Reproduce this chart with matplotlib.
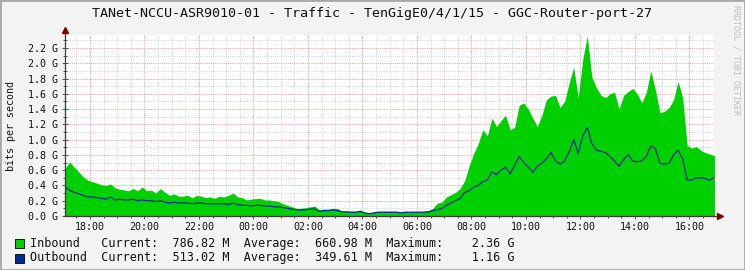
import matplotlib.pyplot as plt
from matplotlib.ticker import FixedLocator, MultipleLocator, FuncFormatter
from matplotlib.patches import Rectangle
import numpy as np

title = "TANet-NCCU-ASR9010-01 - Traffic - TenGigE0/4/1/15 - GGC-Router-port-27"

# one sample every 10 min, first one at 17:05 (hours counted from midnight of day 1)
start_hour = 17 + 5 / 60
step_hours = 10 / 60

# Gbit/s
inbound = [
    0.62, 0.71, 0.64, 0.58, 0.51, 0.47,  # 17
    0.45, 0.43, 0.41, 0.40, 0.42, 0.37,  # 18
    0.35, 0.34, 0.33, 0.36, 0.33, 0.38,  # 19
    0.33, 0.34, 0.30, 0.36, 0.31, 0.27,  # 20
    0.29, 0.26, 0.26, 0.27, 0.24, 0.27,  # 21
    0.26, 0.24, 0.25, 0.23, 0.26, 0.25,  # 22
    0.27, 0.30, 0.25, 0.24, 0.21, 0.22,  # 23
    0.23, 0.23, 0.21, 0.21, 0.20, 0.19,  # 00
    0.16, 0.14, 0.12, 0.10, 0.10, 0.11,  # 01
    0.12, 0.13, 0.08, 0.09, 0.09, 0.10,  # 02
    0.10, 0.06, 0.06, 0.06, 0.06, 0.08,  # 03
    0.05, 0.04, 0.05, 0.06, 0.06, 0.06,  # 04
    0.06, 0.06, 0.05, 0.06, 0.05, 0.06,  # 05
    0.06, 0.06, 0.07, 0.10, 0.17, 0.18,  # 06
    0.25, 0.28, 0.31, 0.36, 0.46, 0.66,  # 07
    0.82, 0.95, 1.13, 1.05, 1.28, 1.17,  # 08
    1.25, 1.32, 1.13, 1.16, 1.45, 1.48,  # 09
    1.40, 1.28, 1.17, 1.32, 1.52, 1.57,  # 10
    1.58, 1.42, 1.50, 1.74, 1.95, 1.55,  # 11
    2.05, 2.36, 1.82, 1.68, 1.58, 1.55,  # 12
    1.60, 1.62, 1.40, 1.58, 1.63, 1.67,  # 13
    1.60, 1.48, 1.62, 1.90, 1.65, 1.35,  # 14
    1.37, 1.42, 1.52, 1.76, 1.55, 0.92,  # 15
    0.89, 0.91, 0.86, 0.83, 0.81, 0.79,  # 16
]
outbound = [
    0.38, 0.34, 0.31, 0.29, 0.27, 0.25,  # 17
    0.25, 0.24, 0.23, 0.22, 0.25, 0.21,  # 18
    0.22, 0.21, 0.21, 0.22, 0.20, 0.21,  # 19
    0.20, 0.20, 0.19, 0.20, 0.18, 0.17,  # 20
    0.18, 0.17, 0.17, 0.17, 0.16, 0.17,  # 21
    0.17, 0.16, 0.16, 0.16, 0.16, 0.16,  # 22
    0.15, 0.17, 0.15, 0.14, 0.14, 0.13,  # 23
    0.14, 0.14, 0.13, 0.13, 0.12, 0.12,  # 00
    0.11, 0.10, 0.09, 0.08, 0.08, 0.08,  # 01
    0.09, 0.09, 0.06, 0.07, 0.07, 0.08,  # 02
    0.07, 0.055, 0.055, 0.05, 0.05, 0.06,  # 03
    0.04, 0.03, 0.04, 0.05, 0.05, 0.05,  # 04
    0.05, 0.05, 0.04, 0.05, 0.05, 0.05,  # 05
    0.05, 0.05, 0.055, 0.07, 0.085, 0.10,  # 06
    0.14, 0.17, 0.20, 0.23, 0.31, 0.33,  # 07
    0.38, 0.40, 0.45, 0.47, 0.58, 0.54,  # 08
    0.60, 0.64, 0.55, 0.66, 0.78, 0.70,  # 09
    0.64, 0.57, 0.65, 0.69, 0.75, 0.83,  # 10
    0.72, 0.68, 0.72, 0.84, 1.00, 0.82,  # 11
    1.05, 1.16, 0.95, 0.86, 0.85, 0.83,  # 12
    0.78, 0.72, 0.65, 0.74, 0.80, 0.72,  # 13
    0.71, 0.72, 0.78, 0.92, 0.88, 0.69,  # 14
    0.68, 0.69, 0.80, 0.86, 0.75, 0.47,  # 15
    0.47, 0.50, 0.50, 0.49, 0.47, 0.51,  # 16
]

hour_ticks = [18, 20, 22, 24, 26, 28, 30, 32, 34, 36, 38, 40]
hour_labels = ["18:00", "20:00", "22:00", "00:00", "02:00", "04:00",
               "06:00", "08:00", "10:00", "12:00", "14:00", "16:00"]

series_names = ["Inbound", "Outbound"]
series_colors = ["#00CF00", "#002A97"]
current = ["786.82 M", "513.02 M"]
average = ["660.98 M", "349.61 M"]
maximum = ["2.36 G", "1.16 G"]

plt.rcParams["font.family"] = "DejaVu Sans Mono"
W, H = 745, 270
fig = plt.figure(figsize=(W / 100, H / 100), dpi=100, facecolor="#F3F3F3")

# 3d-ish border like rrdtool
fig.patches.append(Rectangle((0, 0), 1, 1, transform=fig.transFigure, fill=False,
                             edgecolor="#A8A8A8", lw=2.0))

ax = fig.add_axes([65 / W, 54 / H, 649 / W, 181 / H])
ax.set_facecolor("white")

hours = start_hour + step_hours * np.arange(len(inbound))
ax.fill_between(hours, inbound, 0, color=series_colors[0], lw=0, zorder=2)
ax.plot(hours, outbound, color=series_colors[1], lw=0.9, zorder=3)

ax.set_xlim(start_hour, 40.9)
ax.set_ylim(0, 2.37)

ax.xaxis.set_major_locator(FixedLocator(hour_ticks))
ax.set_xticklabels(hour_labels)
ax.xaxis.set_minor_locator(MultipleLocator(0.5))
ax.yaxis.set_major_locator(MultipleLocator(0.2))
ax.yaxis.set_minor_locator(MultipleLocator(0.1))
ax.yaxis.set_major_formatter(FuncFormatter(lambda v, p: f"{v:.1f} G"))

ax.set_axisbelow(True)
ax.grid(which="minor", color="#D4D4D4", ls=(0, (1, 1.2)), lw=0.7)
ax.grid(which="major", color="#F09A9A", ls=(0, (1, 1.2)), lw=0.7)

for s in ("top", "right"):
    ax.spines[s].set_visible(False)
for s in ("left", "bottom"):
    ax.spines[s].set_color("#3A3A3A")
    ax.spines[s].set_linewidth(0.9)
    ax.spines[s].set_zorder(5)

ax.tick_params(which="both", direction="inout", color="#555555", width=0.7,
               labelsize=7.2, labelcolor="#111111")
ax.tick_params(which="major", length=4)
ax.tick_params(which="minor", length=2.5)
ax.tick_params(axis="y", pad=3)
ax.tick_params(axis="x", pad=2)

# axis arrows
ax.plot([0, 0], [1.0, 1.02], transform=ax.transAxes, color="#3A3A3A", lw=0.9, clip_on=False)
ax.plot([1.0, 1.006], [0, 0], transform=ax.transAxes, color="#3A3A3A", lw=0.9, clip_on=False)
ax.plot([0], [1.03], marker="^", ms=4, color="#7F0000", transform=ax.transAxes, clip_on=False)
ax.plot([1.009], [0], marker=">", ms=4, color="#7F0000", transform=ax.transAxes, clip_on=False)

fig.text(372 / W, 1 - 14 / H, title, ha="center", va="center", fontsize=9.6, color="#111111")
fig.text(11 / W, 1 - 126 / H, "bits per second", rotation=90, ha="center", va="center",
         fontsize=7.2, color="#111111")
fig.text(736 / W, 1 - 60 / H, "RRDTOOL / TOBI OETIKER", rotation=270, ha="center", va="center",
         fontsize=6, color="#BDBDBD")

# legend
for i, name in enumerate(series_names):
    y = 243 + 15 * i
    fig.patches.append(Rectangle((15 / W, 1 - (y + 4.5) / H), 8.5 / W, 8.5 / H,
                                 transform=fig.transFigure, facecolor=series_colors[i],
                                 edgecolor="black", lw=0.6))
    line = f"{name:<10}Current:  {current[i]:>8}  Average:  {average[i]:>8}  Maximum:  {maximum[i]:>8}"
    fig.text(30 / W, 1 - y / H, line, ha="left", va="center", fontsize=8.5, color="#111111")

fig.savefig("out.png", dpi=100, facecolor=fig.get_facecolor())
